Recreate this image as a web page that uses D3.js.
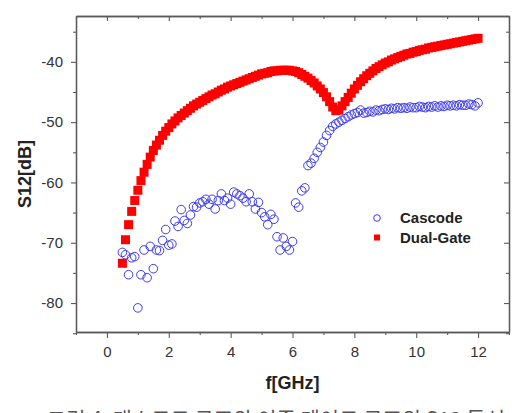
<!DOCTYPE html>
<html>
<head>
<meta charset="utf-8">
<script src="https://cdn.jsdelivr.net/npm/d3@7"></script>
<style>
  body { margin: 0; background: #fff; }
  svg { display: block; font-family: "Liberation Sans", Arial, sans-serif; }
</style>
</head>
<body>
<div id="chart"></div>
<script>
// data (frequency in GHz, S12 in dB)
freq = [0.5, 0.6, 0.7, 0.8, 0.9, 1.0, 1.1, 1.2, 1.3, 1.4, 1.5, 1.6, 1.7, 1.8, 1.9,
	2.0, 2.1, 2.2, 2.3, 2.4, 2.5, 2.6, 2.7, 2.8, 2.9, 3.0, 3.1, 3.2, 3.3, 3.4, 3.5, 3.6, 3.7, 3.8, 3.9,
	4.0, 4.1, 4.2, 4.3, 4.4, 4.5, 4.6, 4.7, 4.8, 4.9, 5.0, 5.1, 5.2, 5.3, 5.4, 5.5, 5.6, 5.7, 5.8, 5.9,
	6.0, 6.1, 6.2, 6.3, 6.4, 6.5, 6.6, 6.7, 6.8, 6.9, 7.0, 7.1, 7.2, 7.3, 7.4, 7.5, 7.6, 7.7, 7.8, 7.9,
	8.0, 8.1, 8.2, 8.3, 8.4, 8.5, 8.6, 8.7, 8.8, 8.9, 9.0, 9.1, 9.2, 9.3, 9.4, 9.5, 9.6, 9.7, 9.8, 9.9,
	10.0, 10.1, 10.2, 10.3, 10.4, 10.5, 10.6, 10.7, 10.8, 10.9, 11.0, 11.1, 11.2, 11.3, 11.4, 11.5,
	11.6, 11.7, 11.8, 11.9, 12.0];

cascode = [-71.6, -72.0, -75.3, -72.5, -72.3, -80.8, -75.3, -71.2, -75.8, -70.6, -74.3, -71.2, -71.3, -69.6, -67.8,
	-70.4, -70.2, -66.4, -67.3, -64.5, -66.3, -66.8, -65.4, -64.0, -64.1, -63.4, -63.2, -62.8, -63.6, -62.8, -64.4, -63.0, -61.9, -63.0, -62.6,
	-63.6, -61.6, -61.9, -62.2, -62.6, -63.2, -61.9, -63.2, -64.4, -63.3, -65.0, -65.7, -67.0, -65.3, -66.1, -69.0, -71.2, -69.2, -70.6, -71.2,
	-69.8, -63.4, -64.1, -61.4, -60.9, -57.2, -56.8, -56.0, -55.0, -54.2, -53.3, -52.2, -51.4, -50.7, -50.3, -50.0, -49.7, -49.4, -49.1, -48.8,
	-48.6, -48.4, -48.0, -48.5, -48.4, -48.2, -48.3, -48.0, -48.1, -47.9, -47.8, -47.9, -47.7, -47.8, -47.6, -47.7, -47.6, -47.7, -47.5, -47.6,
	-47.6, -47.4, -47.5, -47.6, -47.4, -47.5, -47.3, -47.5, -47.3, -47.4, -47.2, -47.3, -47.2, -47.3, -47.1, -47.2,
	-47.2, -47.0, -47.1, -47.3, -46.8];

dual_gate = [-73.4, -69.5, -67.0, -64.8, -63.0, -61.3, -59.7, -58.3, -57.0, -55.8, -54.7, -53.8, -53.0, -52.2, -51.5,
	-50.9, -50.3, -49.8, -49.3, -48.9, -48.5, -48.1, -47.7, -47.3, -47.0, -46.7, -46.4, -46.1, -45.8, -45.5, -45.3, -45.0, -44.7, -44.5, -44.2,
	-44.0, -43.8, -43.6, -43.4, -43.2, -43.0, -42.8, -42.6, -42.4, -42.2, -42.0, -41.9, -41.8, -41.6, -41.5, -41.5, -41.4, -41.4, -41.4, -41.4,
	-41.5, -41.6, -41.8, -42.1, -42.4, -42.7, -43.1, -43.5, -44.0, -44.5, -45.1, -45.8, -46.6, -47.5, -48.1, -48.0, -47.3, -46.6, -45.9, -45.2,
	-44.5, -43.9, -43.3, -42.8, -42.3, -41.9, -41.5, -41.1, -40.8, -40.5, -40.2, -40.0, -39.7, -39.5, -39.3, -39.1, -38.9, -38.7, -38.6, -38.4,
	-38.3, -38.1, -38.0, -37.9, -37.7, -37.6, -37.5, -37.4, -37.3, -37.2, -37.1, -37.0, -36.9, -36.8, -36.7, -36.6,
	-36.5, -36.4, -36.3, -36.2, -36.1];

// tick labels
x_major = [0, 2, 4, 6, 8, 10, 12];
x_minor = [-1, 1, 3, 5, 7, 9, 11, 13];
y_major = [-80, -70, -60, -50, -40];
y_minor = [-85, -75, -65, -55, -45, -35];

series_names = ['Cascode', 'Dual-Gate'];
caption = '그림 4. 캐스코드 구조와 이중 게이트 구조의 S12 특성';

// chart settings
width = 522;
height = 413;
margin = { left: 76, right: 13, top: 16, bottom: 81 };
axis_color = '#5a5a5a';
blue = '#3b3bf5';
red = '#ff0000';

var svg = d3.select('#chart')
	.append('svg')
	.attr('width', width)
	.attr('height', height);

// scales
x_scale = d3.scaleLinear()
	.domain([-1, 13])
	.range([margin.left, width - margin.right]);

y_scale = d3.scaleLinear()
	.domain([-84.8, -32.4])
	.range([height - margin.bottom, margin.top]);

// plain hyphen minus, like the original
var fmt = (d) => String(d);

// axes
function draw_axis(axis, transform, labels) {
	var g = svg.append('g')
		.attr('transform', transform)
		.call(axis.tickFormat(fmt));
	g.select('.domain').attr('stroke', axis_color).attr('stroke-width', 1.3);
	g.selectAll('.tick line').attr('stroke', axis_color).attr('stroke-width', 1.1);
	g.selectAll('.tick text')
		.attr('fill', '#333')
		.style('font-size', '15px')
		.style('font-family', '"Liberation Sans", Arial, sans-serif');
	if (!labels) g.selectAll('.tick text').remove();
	return g;
}

var bottom_y = height - margin.bottom;
var right_x = width - margin.right;

draw_axis(d3.axisBottom(x_scale).tickValues(x_minor).tickSize(3).tickSizeOuter(0), `translate(0,${bottom_y})`, false);
draw_axis(d3.axisBottom(x_scale).tickValues(x_major).tickSize(6).tickSizeOuter(0).tickPadding(8), `translate(0,${bottom_y})`, true);
draw_axis(d3.axisLeft(y_scale).tickValues(y_minor).tickSize(3).tickSizeOuter(0), `translate(${margin.left},0)`, false);
draw_axis(d3.axisLeft(y_scale).tickValues(y_major).tickSize(5).tickSizeOuter(0).tickPadding(8), `translate(${margin.left},0)`, true);
draw_axis(d3.axisTop(x_scale).tickValues(x_minor).tickSize(-3).tickSizeOuter(0), `translate(0,${margin.top})`, false);
draw_axis(d3.axisTop(x_scale).tickValues(x_major).tickSize(-5).tickSizeOuter(0), `translate(0,${margin.top})`, false);
draw_axis(d3.axisRight(y_scale).tickValues(y_minor).tickSize(-3).tickSizeOuter(0), `translate(${right_x},0)`, false);
draw_axis(d3.axisRight(y_scale).tickValues(y_major).tickSize(-5).tickSizeOuter(0), `translate(${right_x},0)`, false);

// dual-gate squares
var sq = 9;
svg.append('g')
	.selectAll('rect')
	.data(freq)
	.enter()
	.append('rect')
	.attr('x', (d) => x_scale(d) - sq / 2)
	.attr('y', (d, i) => y_scale(dual_gate[i]) - sq / 2)
	.attr('width', sq)
	.attr('height', sq)
	.attr('fill', red);

// cascode circles
svg.append('g')
	.selectAll('circle')
	.data(freq)
	.enter()
	.append('circle')
	.attr('cx', (d) => x_scale(d))
	.attr('cy', (d, i) => y_scale(cascode[i]))
	.attr('r', 4.3)
	.attr('fill', 'none')
	.attr('stroke', blue)
	.attr('stroke-width', 1);

// legend
var legend = svg.append('g').attr('transform', 'translate(377,218)');
legend.append('circle')
	.attr('cx', 0).attr('cy', 0).attr('r', 3.3)
	.attr('fill', 'none').attr('stroke', blue).attr('stroke-width', 1);
legend.append('rect')
	.attr('x', -3).attr('y', 16.5).attr('width', 6).attr('height', 6)
	.attr('fill', red);
legend.selectAll('text')
	.data(series_names)
	.enter()
	.append('text')
	.attr('x', 23)
	.attr('y', (d, i) => i * 19.5)
	.attr('dy', '0.35em')
	.attr('fill', '#222')
	.style('font-size', '15px')
	.style('font-weight', 'bold')
	.text((d) => d);

// axis titles
svg.append('text')
	.attr('x', (margin.left + right_x) / 2)
	.attr('y', 389)
	.attr('text-anchor', 'middle')
	.attr('fill', '#222')
	.style('font-size', '18px')
	.style('font-weight', 'bold')
	.text('f[GHz]');

svg.append('text')
	.attr('transform', `translate(31,${(margin.top + bottom_y) / 2}) rotate(-90)`)
	.attr('text-anchor', 'middle')
	.attr('fill', '#222')
	.style('font-size', '18px')
	.style('font-weight', 'bold')
	.text('S12[dB]');

// caption, cut by the bottom edge as in the source image
svg.append('text')
	.attr('x', 276)
	.attr('y', 427)
	.attr('text-anchor', 'middle')
	.attr('fill', '#555')
	.style('font-size', '21px')
	.style('font-family', '"Noto Sans CJK KR", sans-serif')
	.text(caption);
</script>
</body>
</html>
